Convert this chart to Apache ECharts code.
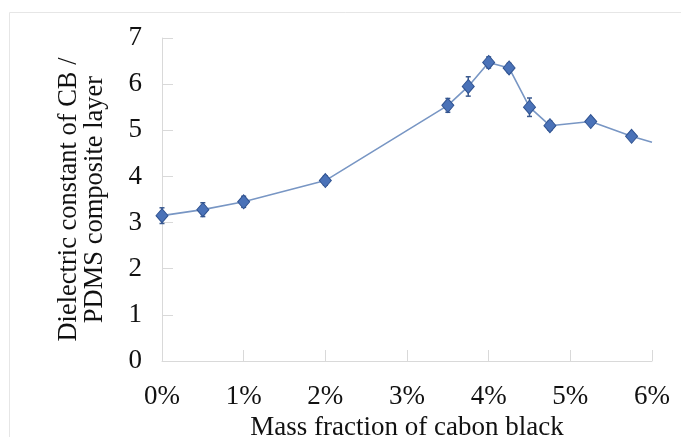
<!DOCTYPE html>
<html lang="en">
<head>
    <meta charset="UTF-8">
    <title>Dielectric constant vs CB fraction</title>
    <style>
        html, body { margin: 0; padding: 0; background: #fff; }
    </style>
</head>
<body>
    <div id="main" style="width: 681px;height:437px;"></div>
    <script src="https://cdn.jsdelivr.net/npm/echarts@6/dist/echarts.min.js"></script>
    <script>

// mass fraction (%) and dielectric constant
var massFraction = [0, 0.5, 1, 2, 3.5, 3.75, 4, 4.25, 4.5, 4.75, 5.25, 5.75, 6];
var dielectric   = [3.15, 3.28, 3.45, 3.91, 5.54, 5.95, 6.47, 6.35, 5.50, 5.10, 5.19, 4.87, 4.74];
var errorBar     = [0.17, 0.15, 0.12, 0.10, 0.15, 0.21, 0.12, 0.10, 0.20, 0.10, 0.06, 0.06, 0];
var xTicks = [0, 1, 2, 3, 4, 5, 6];

var serif = '"Liberation Serif", "Times New Roman", serif';

// line points; the last one (6%) is only the end of the line, no marker
var lineData = massFraction.map(function (x, i) {
    var item = { value: [x, dielectric[i]] };
    if (errorBar[i] === 0) item.symbol = 'none';
    return item;
});
var errData = [];
massFraction.forEach(function (x, i) {
    if (errorBar[i] > 0) errData.push([x, dielectric[i] - errorBar[i], dielectric[i] + errorBar[i]]);
});

var option = {
    backgroundColor: '#fff',
    animation: false,
    grid: { left: 162, right: 29, top: 38, bottom: 76, outerBoundsMode: 'none' },
    graphic: [{
        type: 'rect',
        shape: { x: 9.5, y: 12.5, width: 700, height: 460 },
        style: { fill: 'none', stroke: '#e6e6e6', lineWidth: 1 },
        silent: true
    }],
    xAxis: {
        type: 'value',
        min: xTicks[0],
        max: xTicks[xTicks.length - 1],
        interval: 1,
        name: 'Mass fraction of cabon black',
        nameLocation: 'middle',
        nameGap: 50,
        nameTextStyle: { fontFamily: serif, fontSize: 27, color: '#111' },
        axisLine: { lineStyle: { color: '#d9d9d9', width: 1 } },
        axisTick: { inside: true, length: 11, lineStyle: { color: '#d9d9d9' } },
        axisLabel: {
            margin: 22,
            fontFamily: serif, fontSize: 27, color: '#111',
            formatter: '{value}%'
        },
        splitLine: { show: false }
    },
    yAxis: {
        type: 'value',
        min: 0,
        max: 7,
        interval: 1,
        name: 'Dielectric constant of CB /\nPDMS composite layer',
        nameLocation: 'middle',
        nameRotate: 90,
        nameGap: 54,
        nameTextStyle: { fontFamily: serif, fontSize: 26.5, lineHeight: 26, color: '#111', align: 'center' },
        axisLine: { show: true, lineStyle: { color: '#d9d9d9', width: 1 } },
        axisTick: { show: true, inside: true, length: 11, lineStyle: { color: '#d9d9d9' } },
        axisLabel: { margin: 20, fontFamily: serif, fontSize: 27, color: '#111' },
        splitLine: { show: false }
    },
    series: [
        {
            name: 'error',
            type: 'custom',
            data: errData,
            z: 3,
            renderItem: function (params, api) {
                var lo = api.coord([api.value(0), api.value(1)]);
                var hi = api.coord([api.value(0), api.value(2)]);
                var w = 2.5;
                var st = { stroke: '#3b5a8f', lineWidth: 1.5 };
                return {
                    type: 'group',
                    children: [
                        { type: 'line', shape: { x1: lo[0], y1: lo[1], x2: hi[0], y2: hi[1] }, style: st },
                        { type: 'line', shape: { x1: lo[0] - w, y1: lo[1], x2: lo[0] + w, y2: lo[1] }, style: st },
                        { type: 'line', shape: { x1: hi[0] - w, y1: hi[1], x2: hi[0] + w, y2: hi[1] }, style: st }
                    ]
                };
            }
        },
        {
            name: 'dielectric',
            type: 'line',
            data: lineData,
            z: 4,
            symbol: 'diamond',
            symbolSize: [12, 14],
            lineStyle: { color: '#7896c4', width: 1.6 },
            itemStyle: { color: '#4a72b8', borderColor: '#2f5290', borderWidth: 1 }
        }
    ]
};

var myChart = echarts.init(document.getElementById('main'));
myChart.setOption(option);

    </script>
</body>
</html>
